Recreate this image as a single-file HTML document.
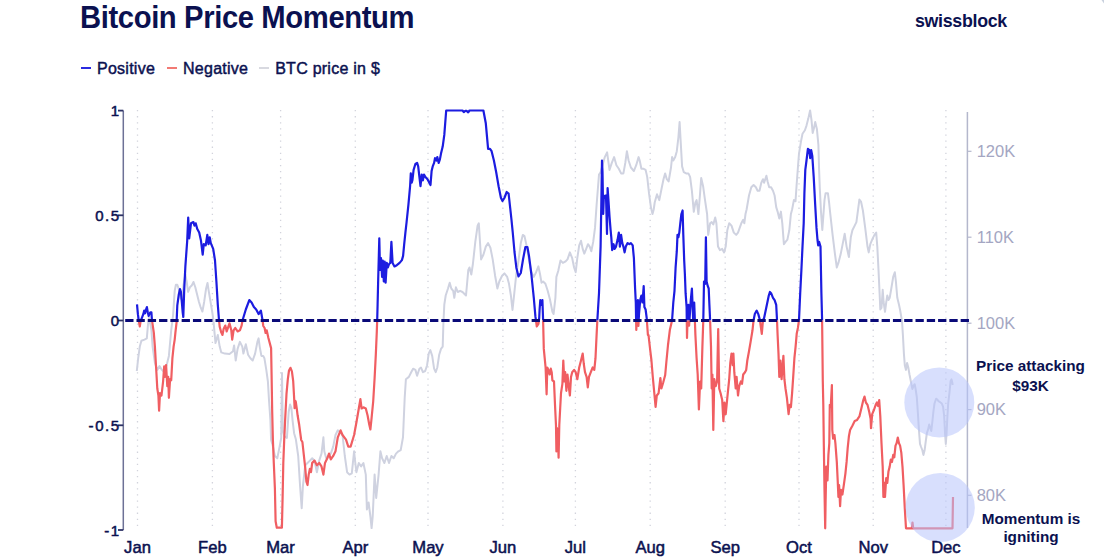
<!DOCTYPE html>
<html><head><meta charset="utf-8"><style>
html,body{margin:0;padding:0;background:#fff;width:1104px;height:558px;overflow:hidden;}
body{position:relative;font-family:"Liberation Sans",sans-serif;}
.t{position:absolute;white-space:nowrap;color:#0b1150;}
#title{left:79.5px;top:0px;font-size:30.6px;font-weight:bold;letter-spacing:-0.4px;transform:scaleX(0.955);transform-origin:0 0;}
#logo{left:915px;top:11px;font-size:17.8px;font-weight:bold;letter-spacing:-0.3px;}
#legend{left:81px;top:59.5px;font-size:16px;letter-spacing:0.25px;font-weight:normal;-webkit-text-stroke:0.45px #0b1150;}
.leg{display:inline-block;vertical-align:middle;}
.dash{display:inline-block;width:10px;height:2px;vertical-align:middle;margin-right:6px;position:relative;top:-1px;}
svg{position:absolute;left:0;top:0;}
</style></head><body>
<svg width="1104" height="558" viewBox="0 0 1104 558">
<defs>
<clipPath id="cpos"><rect x="0" y="0" width="1104" height="320.5"/></clipPath>
<clipPath id="cneg"><rect x="0" y="320.5" width="1104" height="300"/></clipPath>
</defs>
<g stroke="#d2d3dc" stroke-width="1.3" stroke-dasharray="1.3 4.8" ><line x1="137.5" y1="110" x2="137.5" y2="529" /><line x1="212.4" y1="110" x2="212.4" y2="529" /><line x1="280.6" y1="110" x2="280.6" y2="529" /><line x1="355.3" y1="110" x2="355.3" y2="529" /><line x1="428.0" y1="110" x2="428.0" y2="529" /><line x1="502.9" y1="110" x2="502.9" y2="529" /><line x1="575.4" y1="110" x2="575.4" y2="529" /><line x1="650.2" y1="110" x2="650.2" y2="529" /><line x1="725.2" y1="110" x2="725.2" y2="529" /><line x1="799.0" y1="110" x2="799.0" y2="529" /><line x1="873.2" y1="110" x2="873.2" y2="529" /><line x1="945.9" y1="110" x2="945.9" y2="529" /></g>
<polyline points="136.8,371.0 138.2,358.2 139.8,346.6 141.4,340.8 144.5,339.6 146.8,338.4 148.0,324.5 149.0,318.0 150.0,322.0 151.4,330.0 152.6,346.6 154.9,362.9 157.3,369.9 159.5,366.0 161.9,369.9 164.0,372.0 166.6,365.2 168.9,355.9 171.2,330.3 173.1,315.1 174.7,290.9 175.9,284.7 177.3,284.7 178.8,289.1 180.5,298.0 182.0,300.0 183.5,285.0 185.4,274.8 186.7,282.0 188.1,291.8 189.9,287.3 191.7,285.6 193.5,282.0 195.3,287.3 197.1,294.5 198.9,301.7 200.6,307.1 202.4,311.5 204.2,301.7 206.0,289.1 207.5,282.9 208.7,290.9 210.5,301.7 212.3,312.4 213.5,321.0 214.3,330.3 215.5,343.1 217.8,334.9 219.7,346.6 221.3,352.4 224.8,353.6 229.5,354.0 233.0,351.2 234.1,345.4 235.7,360.5 237.6,348.9 239.9,341.9 242.3,346.6 243.4,353.6 245.8,344.2 248.1,354.7 250.4,358.2 252.7,360.5 255.1,353.6 257.4,341.9 258.6,338.4 259.7,346.6 261.4,355.9 263.2,355.9 264.4,358.2 266.3,369.9 267.9,381.5 269.0,400.1 270.4,420.0 271.1,440.0 272.6,445.0 274.9,456.0 277.3,458.3 279.6,446.6 281.2,438.0 282.0,373.0 282.8,430.0 284.2,436.0 286.9,438.0 288.7,411.7 290.1,404.5 291.4,408.1 292.6,420.6 294.1,433.2 295.9,439.6 298.2,456.0 300.1,486.2 301.7,508.3 302.9,486.2 305.2,465.3 307.5,463.0 309.9,460.6 312.2,458.3 314.5,460.6 316.9,472.2 319.2,460.6 321.5,453.6 323.4,437.3 324.3,451.3 326.2,458.3 328.5,456.0 330.8,453.6 333.2,446.6 335.5,435.0 337.8,430.3 340.0,432.0 342.5,435.0 344.8,456.0 347.1,472.2 349.5,474.6 351.8,473.4 354.1,451.3 355.3,463.0 356.4,472.2 358.8,463.0 361.1,466.4 363.4,463.0 365.8,474.6 366.9,509.5 368.6,502.5 370.4,516.5 371.6,528.1 372.7,516.5 374.6,474.6 376.2,497.9 378.6,474.6 380.4,451.3 382.1,458.3 384.4,463.0 386.7,456.0 389.0,463.0 391.4,456.0 393.7,458.3 396.0,453.6 398.4,451.3 400.7,450.1 403.0,437.3 404.7,397.8 405.9,379.2 408.9,376.9 411.2,372.2 413.1,368.7 415.4,369.9 417.1,375.7 419.4,368.7 421.0,367.5 422.9,372.2 425.2,371.0 427.1,365.2 428.7,353.6 430.3,350.1 432.2,355.9 434.1,368.7 435.7,372.2 437.3,367.5 439.2,354.7 441.0,348.9 442.7,346.6 443.4,323.3 444.3,304.7 445.7,295.5 448.0,288.5 449.7,282.7 451.3,288.5 453.2,290.8 454.3,297.8 455.9,287.3 457.8,292.0 460.1,290.8 462.5,292.0 466.0,295.5 468.3,269.9 469.5,267.5 471.3,274.5 472.9,264.0 475.3,241.9 477.6,225.6 478.8,223.3 481.1,259.4 483.4,254.7 485.8,246.6 488.1,243.1 490.4,247.7 492.7,259.4 495.1,275.7 497.4,288.5 499.3,281.5 502.1,275.7 504.4,273.4 507.2,276.9 509.0,283.8 510.9,295.5 512.5,310.0 514.3,293.2 516.2,275.0 518.5,260.5 520.8,243.0 522.8,234.9 524.5,236.1 526.8,246.6 529.1,260.5 531.4,272.2 533.8,276.9 536.1,272.2 538.4,266.4 540.1,274.5 541.5,282.7 543.1,281.5 545.4,283.8 547.7,290.8 550.1,300.1 552.4,311.8 553.6,314.0 555.4,297.8 556.4,276.9 558.2,271.0 560.5,260.5 562.9,262.9 565.2,261.7 567.5,259.4 569.9,252.4 572.2,258.2 574.1,267.5 575.7,272.2 577.3,258.2 579.2,245.4 581.0,240.8 582.7,248.9 584.3,253.6 586.2,248.9 588.0,244.2 589.7,246.6 591.3,251.2 593.2,241.9 595.0,227.9 596.6,205.0 599.0,174.5 600.6,172.2 602.5,165.2 604.8,157.1 607.1,152.4 609.5,169.9 611.8,162.9 614.1,157.1 616.4,165.2 618.8,168.7 621.1,173.4 623.4,173.4 625.3,162.9 626.9,151.2 628.6,160.5 630.9,167.5 633.9,171.0 636.2,165.2 638.6,157.1 639.7,160.5 641.4,168.7 643.2,168.7 645.6,169.9 647.2,176.9 649.0,193.2 650.9,207.1 652.5,214.1 653.7,209.5 654.7,202.5 657.0,194.3 659.3,200.1 661.6,188.5 663.5,179.2 665.1,173.4 666.8,179.2 668.6,181.5 671.0,167.5 672.1,157.1 673.3,160.5 675.2,157.1 676.8,151.2 678.4,137.3 679.6,122.1 680.7,141.9 682.1,166.4 683.8,172.2 686.1,173.4 688.4,173.4 690.1,176.9 691.9,190.8 693.8,211.8 695.4,202.5 696.6,200.1 698.4,214.1 700.1,193.2 701.2,178.0 703.1,186.2 704.7,197.8 706.4,209.5 707.1,214.0 708.2,234.9 710.1,223.3 711.7,222.1 713.3,224.5 715.2,217.5 716.4,223.3 718.0,246.6 719.9,250.1 722.2,248.9 724.1,252.4 725.7,246.6 727.3,230.3 729.2,223.3 731.5,225.6 733.8,232.6 736.2,234.9 738.0,232.6 739.7,227.9 741.3,223.3 743.2,219.8 744.3,223.3 745.5,214.0 746.6,209.5 749.0,195.5 751.3,187.3 753.6,185.0 755.9,187.3 757.6,190.8 759.5,190.8 761.3,182.7 763.0,179.2 764.1,182.7 766.4,175.7 767.6,181.5 769.2,187.3 771.1,187.3 773.0,190.8 774.6,195.5 776.2,207.1 777.6,211.6 779.3,218.6 780.9,211.6 782.3,223.3 783.9,244.2 785.5,241.9 787.4,239.6 789.3,230.3 790.9,214.0 792.1,209.5 793.9,200.1 795.5,201.3 796.7,183.8 797.9,167.5 799.0,153.6 800.9,141.9 802.5,133.8 804.9,130.3 806.5,125.6 808.3,118.6 810.1,110.5 811.5,120.0 812.7,133.0 814.0,127.9 815.2,122.1 816.9,129.0 818.4,145.0 819.1,169.9 819.8,188.5 821.0,211.8 822.3,230.0 823.3,216.4 824.5,200.1 825.6,193.2 827.9,193.2 829.1,202.5 830.3,214.1 832.6,234.9 834.9,253.6 836.8,267.5 838.4,262.9 840.8,253.6 843.1,241.9 844.7,233.8 846.6,246.6 848.9,257.1 850.8,237.3 852.4,230.3 854.7,225.6 856.4,222.1 857.8,211.6 859.4,199.5 861.0,201.5 862.9,210.5 865.2,227.9 867.5,246.6 868.7,252.4 870.3,244.2 872.7,238.4 874.5,234.9 876.2,232.6 877.3,246.6 878.5,269.9 879.6,293.2 880.3,309.5 881.5,308.0 882.7,289.7 883.6,302.0 885.0,311.8 886.2,302.5 887.3,295.5 888.5,300.1 889.7,297.8 891.3,288.5 893.2,276.9 894.8,272.2 895.9,281.5 897.3,297.8 899.0,304.8 900.1,310.0 902.0,321.0 902.9,334.9 903.9,353.6 904.8,365.2 906.0,369.9 907.1,362.9 908.3,367.5 909.5,374.5 911.1,382.6 912.4,389.0 913.5,385.8 914.7,384.2 915.6,389.0 916.8,397.1 917.9,413.2 918.9,429.4 920.0,443.9 921.1,447.0 922.3,450.0 923.4,454.9 924.6,450.3 925.8,441.0 926.9,433.0 928.1,429.4 929.2,424.5 930.2,427.7 931.3,431.0 932.4,421.3 933.4,411.6 934.5,403.5 936.1,398.7 937.3,399.5 938.5,401.1 940.2,402.3 941.8,403.5 943.1,406.8 944.2,416.5 945.0,432.6 945.8,443.9 946.6,432.6 947.4,416.5 948.2,403.5 949.5,392.3 950.6,381.0 951.5,379.4 952.3,382.6 952.7,385.0" fill="none" stroke="#cfd2e0" stroke-width="2" stroke-linejoin="round"/>
<line x1="123.3" y1="110.6" x2="123.3" y2="530" stroke="#6d7196" stroke-width="1.5"/>
<g stroke="#2e3366" stroke-width="1.8"><line x1="118" y1="110.6" x2="123.3" y2="110.6" /><line x1="118" y1="215.3" x2="123.3" y2="215.3" /><line x1="118" y1="320.5" x2="123.3" y2="320.5" /><line x1="118" y1="425.3" x2="123.3" y2="425.3" /><line x1="118" y1="530" x2="123.3" y2="530" /></g>
<line x1="967.4" y1="112" x2="967.4" y2="528" stroke="#b4b7cc" stroke-width="1.5"/>
<g stroke="#b4b7cc" stroke-width="1.2"><line x1="967.5" y1="151.3" x2="971.5" y2="151.3" /><line x1="967.5" y1="237.2" x2="971.5" y2="237.2" /><line x1="967.5" y1="323.2" x2="971.5" y2="323.2" /><line x1="967.5" y1="409.6" x2="971.5" y2="409.6" /><line x1="967.5" y1="495.3" x2="971.5" y2="495.3" /></g>
<polyline points="137.0,304.4 137.9,314.2 138.8,321.0 139.8,326.5 140.6,321.0 141.9,317.8 143.3,314.2 144.2,310.6 145.1,313.3 146.0,309.7 146.9,307.1 147.8,312.4 148.7,316.0 149.6,313.3 150.5,312.4 151.4,312.4 151.9,319.6 153.8,332.6 154.9,346.6 156.1,367.5 157.3,388.5 158.4,395.5 159.1,410.6 160.0,393.2 161.5,395.5 163.1,381.5 164.2,366.4 164.9,376.9 166.1,365.2 167.3,386.2 168.2,376.9 168.9,397.8 170.1,379.2 171.2,380.3 172.4,358.2 173.6,346.6 174.7,339.6 175.4,332.6 176.6,322.1 177.3,305.3 178.8,294.5 180.0,289.1 180.9,291.8 181.8,301.7 182.7,312.4 183.3,317.0 184.2,290.0 185.4,265.8 187.2,240.8 188.2,217.5 189.2,238.4 191.0,223.3 193.4,222.1 194.5,225.6 195.7,223.3 197.3,229.1 199.2,232.6 201.0,240.8 202.7,254.7 203.8,244.2 205.7,245.4 207.3,234.9 208.5,244.2 209.7,237.3 210.8,243.1 213.2,248.9 215.0,260.5 216.4,281.5 217.8,304.8 219.0,320.0 219.7,326.8 221.3,332.6 222.5,334.9 223.6,329.1 225.3,325.6 226.7,331.4 228.3,326.8 229.5,323.3 231.3,330.3 232.2,339.6 233.6,330.3 235.3,328.0 237.6,331.4 239.9,330.3 241.6,325.6 242.5,320.5 245.8,309.5 249.3,300.1 251.6,302.5 253.9,307.1 256.2,309.5 258.6,314.1 260.9,310.6 262.5,320.0 263.3,326.0 264.6,328.0 265.6,333.0 266.7,330.3 268.4,338.0 269.9,343.6 271.1,348.1 271.6,375.8 272.2,411.7 272.9,440.0 273.8,463.0 274.9,488.5 275.6,521.2 276.8,527.7 281.9,527.7 282.6,497.9 283.3,462.9 284.2,440.0 285.1,420.6 286.5,393.8 287.8,379.4 289.0,370.5 290.5,367.8 291.9,371.4 293.2,381.2 294.1,397.3 294.6,408.1 295.3,400.9 295.8,401.8 296.7,408.1 297.6,415.3 299.1,424.2 300.3,433.2 301.2,440.0 302.4,442.0 305.2,467.6 306.4,481.6 307.5,485.0 308.7,474.6 309.9,468.8 311.0,472.2 312.2,462.9 314.5,460.6 316.9,465.3 319.2,462.9 321.5,466.4 323.4,474.6 325.0,462.9 327.3,458.3 329.0,453.6 330.8,459.4 333.2,455.9 335.5,451.3 337.8,437.3 340.6,430.3 342.5,435.0 346.0,439.6 348.3,446.6 350.6,446.6 354.1,435.0 356.4,422.5 358.8,408.5 360.4,399.2 361.6,408.5 363.4,407.3 365.8,408.5 367.6,415.5 369.3,424.8 370.4,429.5 371.6,417.8 373.2,401.5 374.6,378.2 375.8,354.9 376.8,331.6 377.2,320.0 377.6,304.8 378.2,279.2 379.3,238.4 380.0,269.9 381.0,258.2 382.1,276.9 382.8,260.5 383.8,281.5 384.7,261.7 385.6,282.7 386.8,262.9 387.9,267.5 389.1,264.0 390.3,262.9 391.4,241.9 392.6,262.9 394.5,266.4 396.8,265.2 399.6,262.9 401.9,260.1 403.1,255.9 404.2,244.2 405.4,232.6 406.6,222.0 408.4,204.8 410.1,186.2 410.8,173.4 411.7,182.7 412.4,180.3 413.6,169.9 415.4,164.0 417.1,162.9 418.2,166.4 419.4,176.8 420.5,186.2 421.7,174.5 422.9,180.3 424.0,174.5 425.2,176.8 427.5,179.2 430.5,185.0 431.6,171.1 432.7,166.4 434.1,162.9 435.0,158.2 436.4,160.5 437.3,157.1 438.7,162.9 439.9,159.4 441.0,153.6 442.7,146.6 444.3,134.9 446.2,110.5 462.5,110.5 463.8,112.2 465.3,110.9 466.6,110.9 468.2,112.3 469.5,110.5 483.4,110.5 485.8,123.3 488.1,148.9 490.0,148.9 491.6,151.2 493.9,160.5 496.2,172.2 498.6,186.2 500.9,197.8 502.5,201.0 504.4,198.0 506.7,192.0 508.6,193.5 510.2,208.0 511.5,220.0 512.7,232.0 514.5,252.0 516.4,268.0 518.5,276.5 520.8,273.0 523.1,259.0 525.4,247.0 527.4,247.0 529.0,255.9 531.4,274.5 533.8,297.8 535.4,316.4 536.8,326.5 538.4,324.0 539.2,318.0 539.6,309.5 540.3,300.1 541.5,304.8 542.4,300.1 543.1,320.0 543.8,348.9 544.7,358.2 545.6,367.5 546.6,394.3 547.3,367.5 548.4,369.9 549.6,374.5 550.8,368.7 551.7,372.2 552.4,380.3 554.0,381.5 555.0,404.8 556.0,425.8 556.4,451.4 557.0,428.0 558.0,440.0 558.6,457.7 559.3,425.0 560.2,408.0 561.0,393.2 562.4,383.8 563.3,360.5 564.3,381.5 565.2,372.2 566.4,390.8 567.5,374.5 568.7,386.2 569.9,395.5 571.0,376.9 572.2,372.2 574.1,369.9 575.7,372.2 577.3,379.2 579.2,367.5 581.0,360.5 582.7,353.6 583.8,364.0 585.0,372.2 586.6,376.9 587.8,387.3 589.0,376.9 590.8,372.2 592.7,367.5 594.3,369.9 595.5,358.2 596.6,334.9 597.3,321.0 599.0,293.2 600.6,246.6 601.3,204.8 602.0,160.5 602.5,172.0 603.2,214.0 603.9,195.5 604.8,197.8 606.0,195.5 607.0,234.0 607.6,188.0 608.3,197.8 609.5,216.4 610.6,230.0 611.3,237.3 612.2,250.1 613.6,244.2 614.6,248.9 616.0,246.6 617.6,239.6 618.8,232.6 619.9,246.6 621.1,234.9 622.3,243.1 623.4,246.6 624.6,252.4 625.8,246.6 627.6,243.1 629.3,244.2 630.9,243.1 632.7,245.4 633.9,258.2 635.1,288.5 635.8,302.5 636.3,330.0 637.0,311.8 637.9,300.1 638.4,326.0 639.0,314.1 640.2,300.1 641.4,295.5 642.5,302.5 643.7,286.2 644.4,307.1 645.6,309.5 646.7,318.0 647.9,334.9 648.5,335.0 650.2,350.0 651.4,360.0 652.8,377.0 654.2,392.0 655.6,407.0 656.8,395.5 658.6,393.2 660.4,378.0 661.4,388.5 663.2,382.5 665.2,375.0 666.5,360.5 668.0,345.0 669.8,330.3 671.4,323.3 672.1,320.0 673.3,302.5 674.5,290.8 675.6,267.5 676.8,251.2 677.5,234.9 678.4,237.3 679.3,232.6 680.3,223.3 681.4,214.0 682.6,210.5 683.3,234.9 684.2,260.5 684.9,274.5 685.6,293.2 686.6,307.1 687.0,338.0 687.6,318.0 688.4,304.8 689.1,325.6 690.8,300.1 691.9,288.5 693.1,318.8 694.2,302.5 694.9,321.0 695.4,334.9 696.6,358.2 697.7,374.5 698.9,409.5 700.1,381.5 701.2,388.5 702.4,346.6 703.3,320.0 704.0,281.5 705.2,283.8 705.9,237.3 706.6,281.5 707.8,286.2 708.7,288.5 709.4,304.8 710.1,320.0 711.0,346.6 711.7,388.5 712.4,374.5 713.3,430.0 714.3,379.2 715.7,386.2 717.1,381.5 718.2,329.1 719.2,388.5 720.6,393.2 722.2,400.1 723.4,421.1 724.5,402.5 725.7,414.1 727.3,397.8 729.2,379.2 730.3,362.9 731.5,353.6 732.7,365.2 733.4,353.6 734.3,372.2 735.7,388.5 736.6,376.9 738.0,395.5 739.2,386.2 740.8,381.5 742.0,383.8 743.2,374.5 745.0,372.2 746.2,369.9 747.3,360.5 749.0,351.2 750.6,341.9 752.5,330.3 753.6,320.0 754.8,314.1 756.7,310.6 758.3,314.1 759.9,320.0 761.8,333.8 763.0,320.0 764.1,318.0 766.4,307.1 768.8,295.5 769.9,292.0 771.1,293.2 773.0,297.8 774.6,300.1 776.2,304.8 777.0,320.0 777.6,334.9 778.5,353.6 779.3,376.9 780.4,360.5 781.6,379.2 782.7,365.2 783.4,355.9 784.4,379.2 785.5,388.5 786.9,397.8 788.6,414.1 789.7,404.8 790.9,407.1 792.1,393.2 793.2,376.9 794.4,358.2 795.6,346.6 796.7,333.8 797.9,327.9 799.0,320.0 800.2,293.2 801.4,269.9 802.5,246.6 803.7,223.3 804.4,193.2 805.3,169.9 806.5,160.5 807.9,148.9 809.3,150.1 810.2,158.2 811.2,150.1 812.3,155.9 813.7,176.9 815.2,205.0 816.5,227.9 817.5,240.0 818.2,245.4 819.1,241.9 820.5,246.6 821.4,293.2 822.1,320.0 822.4,346.6 822.8,381.5 823.3,404.8 823.8,443.3 824.5,489.9 825.2,528.3 825.6,501.5 826.3,466.6 827.5,480.5 828.4,454.9 829.3,443.3 829.8,404.8 830.7,407.1 831.9,385.0 832.3,430.0 833.1,438.6 834.5,435.1 835.4,443.3 836.8,461.9 837.7,480.5 838.4,496.9 839.1,485.2 840.1,506.2 841.0,489.9 842.4,494.5 843.8,485.2 845.4,473.6 846.6,461.9 847.7,447.9 848.9,436.3 850.1,430.0 852.4,425.8 854.7,421.1 857.1,419.9 859.4,416.4 861.7,407.1 863.3,400.1 864.5,396.6 865.9,402.5 867.5,404.8 869.2,411.8 870.6,418.8 871.0,428.2 872.2,414.1 874.1,409.5 875.7,404.8 876.9,402.5 878.0,406.0 879.2,400.1 880.3,416.4 881.5,443.3 882.7,466.6 883.4,496.9 884.3,482.9 885.0,496.9 886.2,478.2 887.3,482.9 888.5,471.2 889.7,466.6 890.8,459.6 892.0,461.9 893.2,454.9 894.3,457.3 895.5,445.6 896.6,443.3 897.8,437.5 899.0,443.3 900.1,445.6 901.3,452.6 902.5,466.6 903.6,485.2 904.8,508.5 906.0,528.3 911.8,528.3 912.5,522.5 913.2,528.3 952.5,528.3 953.0,496.9" fill="none" stroke="#1c1ce0" stroke-width="2.2" stroke-linejoin="round" clip-path="url(#cpos)"/>
<polyline points="137.0,304.4 137.9,314.2 138.8,321.0 139.8,326.5 140.6,321.0 141.9,317.8 143.3,314.2 144.2,310.6 145.1,313.3 146.0,309.7 146.9,307.1 147.8,312.4 148.7,316.0 149.6,313.3 150.5,312.4 151.4,312.4 151.9,319.6 153.8,332.6 154.9,346.6 156.1,367.5 157.3,388.5 158.4,395.5 159.1,410.6 160.0,393.2 161.5,395.5 163.1,381.5 164.2,366.4 164.9,376.9 166.1,365.2 167.3,386.2 168.2,376.9 168.9,397.8 170.1,379.2 171.2,380.3 172.4,358.2 173.6,346.6 174.7,339.6 175.4,332.6 176.6,322.1 177.3,305.3 178.8,294.5 180.0,289.1 180.9,291.8 181.8,301.7 182.7,312.4 183.3,317.0 184.2,290.0 185.4,265.8 187.2,240.8 188.2,217.5 189.2,238.4 191.0,223.3 193.4,222.1 194.5,225.6 195.7,223.3 197.3,229.1 199.2,232.6 201.0,240.8 202.7,254.7 203.8,244.2 205.7,245.4 207.3,234.9 208.5,244.2 209.7,237.3 210.8,243.1 213.2,248.9 215.0,260.5 216.4,281.5 217.8,304.8 219.0,320.0 219.7,326.8 221.3,332.6 222.5,334.9 223.6,329.1 225.3,325.6 226.7,331.4 228.3,326.8 229.5,323.3 231.3,330.3 232.2,339.6 233.6,330.3 235.3,328.0 237.6,331.4 239.9,330.3 241.6,325.6 242.5,320.5 245.8,309.5 249.3,300.1 251.6,302.5 253.9,307.1 256.2,309.5 258.6,314.1 260.9,310.6 262.5,320.0 263.3,326.0 264.6,328.0 265.6,333.0 266.7,330.3 268.4,338.0 269.9,343.6 271.1,348.1 271.6,375.8 272.2,411.7 272.9,440.0 273.8,463.0 274.9,488.5 275.6,521.2 276.8,527.7 281.9,527.7 282.6,497.9 283.3,462.9 284.2,440.0 285.1,420.6 286.5,393.8 287.8,379.4 289.0,370.5 290.5,367.8 291.9,371.4 293.2,381.2 294.1,397.3 294.6,408.1 295.3,400.9 295.8,401.8 296.7,408.1 297.6,415.3 299.1,424.2 300.3,433.2 301.2,440.0 302.4,442.0 305.2,467.6 306.4,481.6 307.5,485.0 308.7,474.6 309.9,468.8 311.0,472.2 312.2,462.9 314.5,460.6 316.9,465.3 319.2,462.9 321.5,466.4 323.4,474.6 325.0,462.9 327.3,458.3 329.0,453.6 330.8,459.4 333.2,455.9 335.5,451.3 337.8,437.3 340.6,430.3 342.5,435.0 346.0,439.6 348.3,446.6 350.6,446.6 354.1,435.0 356.4,422.5 358.8,408.5 360.4,399.2 361.6,408.5 363.4,407.3 365.8,408.5 367.6,415.5 369.3,424.8 370.4,429.5 371.6,417.8 373.2,401.5 374.6,378.2 375.8,354.9 376.8,331.6 377.2,320.0 377.6,304.8 378.2,279.2 379.3,238.4 380.0,269.9 381.0,258.2 382.1,276.9 382.8,260.5 383.8,281.5 384.7,261.7 385.6,282.7 386.8,262.9 387.9,267.5 389.1,264.0 390.3,262.9 391.4,241.9 392.6,262.9 394.5,266.4 396.8,265.2 399.6,262.9 401.9,260.1 403.1,255.9 404.2,244.2 405.4,232.6 406.6,222.0 408.4,204.8 410.1,186.2 410.8,173.4 411.7,182.7 412.4,180.3 413.6,169.9 415.4,164.0 417.1,162.9 418.2,166.4 419.4,176.8 420.5,186.2 421.7,174.5 422.9,180.3 424.0,174.5 425.2,176.8 427.5,179.2 430.5,185.0 431.6,171.1 432.7,166.4 434.1,162.9 435.0,158.2 436.4,160.5 437.3,157.1 438.7,162.9 439.9,159.4 441.0,153.6 442.7,146.6 444.3,134.9 446.2,110.5 462.5,110.5 463.8,112.2 465.3,110.9 466.6,110.9 468.2,112.3 469.5,110.5 483.4,110.5 485.8,123.3 488.1,148.9 490.0,148.9 491.6,151.2 493.9,160.5 496.2,172.2 498.6,186.2 500.9,197.8 502.5,201.0 504.4,198.0 506.7,192.0 508.6,193.5 510.2,208.0 511.5,220.0 512.7,232.0 514.5,252.0 516.4,268.0 518.5,276.5 520.8,273.0 523.1,259.0 525.4,247.0 527.4,247.0 529.0,255.9 531.4,274.5 533.8,297.8 535.4,316.4 536.8,326.5 538.4,324.0 539.2,318.0 539.6,309.5 540.3,300.1 541.5,304.8 542.4,300.1 543.1,320.0 543.8,348.9 544.7,358.2 545.6,367.5 546.6,394.3 547.3,367.5 548.4,369.9 549.6,374.5 550.8,368.7 551.7,372.2 552.4,380.3 554.0,381.5 555.0,404.8 556.0,425.8 556.4,451.4 557.0,428.0 558.0,440.0 558.6,457.7 559.3,425.0 560.2,408.0 561.0,393.2 562.4,383.8 563.3,360.5 564.3,381.5 565.2,372.2 566.4,390.8 567.5,374.5 568.7,386.2 569.9,395.5 571.0,376.9 572.2,372.2 574.1,369.9 575.7,372.2 577.3,379.2 579.2,367.5 581.0,360.5 582.7,353.6 583.8,364.0 585.0,372.2 586.6,376.9 587.8,387.3 589.0,376.9 590.8,372.2 592.7,367.5 594.3,369.9 595.5,358.2 596.6,334.9 597.3,321.0 599.0,293.2 600.6,246.6 601.3,204.8 602.0,160.5 602.5,172.0 603.2,214.0 603.9,195.5 604.8,197.8 606.0,195.5 607.0,234.0 607.6,188.0 608.3,197.8 609.5,216.4 610.6,230.0 611.3,237.3 612.2,250.1 613.6,244.2 614.6,248.9 616.0,246.6 617.6,239.6 618.8,232.6 619.9,246.6 621.1,234.9 622.3,243.1 623.4,246.6 624.6,252.4 625.8,246.6 627.6,243.1 629.3,244.2 630.9,243.1 632.7,245.4 633.9,258.2 635.1,288.5 635.8,302.5 636.3,330.0 637.0,311.8 637.9,300.1 638.4,326.0 639.0,314.1 640.2,300.1 641.4,295.5 642.5,302.5 643.7,286.2 644.4,307.1 645.6,309.5 646.7,318.0 647.9,334.9 648.5,335.0 650.2,350.0 651.4,360.0 652.8,377.0 654.2,392.0 655.6,407.0 656.8,395.5 658.6,393.2 660.4,378.0 661.4,388.5 663.2,382.5 665.2,375.0 666.5,360.5 668.0,345.0 669.8,330.3 671.4,323.3 672.1,320.0 673.3,302.5 674.5,290.8 675.6,267.5 676.8,251.2 677.5,234.9 678.4,237.3 679.3,232.6 680.3,223.3 681.4,214.0 682.6,210.5 683.3,234.9 684.2,260.5 684.9,274.5 685.6,293.2 686.6,307.1 687.0,338.0 687.6,318.0 688.4,304.8 689.1,325.6 690.8,300.1 691.9,288.5 693.1,318.8 694.2,302.5 694.9,321.0 695.4,334.9 696.6,358.2 697.7,374.5 698.9,409.5 700.1,381.5 701.2,388.5 702.4,346.6 703.3,320.0 704.0,281.5 705.2,283.8 705.9,237.3 706.6,281.5 707.8,286.2 708.7,288.5 709.4,304.8 710.1,320.0 711.0,346.6 711.7,388.5 712.4,374.5 713.3,430.0 714.3,379.2 715.7,386.2 717.1,381.5 718.2,329.1 719.2,388.5 720.6,393.2 722.2,400.1 723.4,421.1 724.5,402.5 725.7,414.1 727.3,397.8 729.2,379.2 730.3,362.9 731.5,353.6 732.7,365.2 733.4,353.6 734.3,372.2 735.7,388.5 736.6,376.9 738.0,395.5 739.2,386.2 740.8,381.5 742.0,383.8 743.2,374.5 745.0,372.2 746.2,369.9 747.3,360.5 749.0,351.2 750.6,341.9 752.5,330.3 753.6,320.0 754.8,314.1 756.7,310.6 758.3,314.1 759.9,320.0 761.8,333.8 763.0,320.0 764.1,318.0 766.4,307.1 768.8,295.5 769.9,292.0 771.1,293.2 773.0,297.8 774.6,300.1 776.2,304.8 777.0,320.0 777.6,334.9 778.5,353.6 779.3,376.9 780.4,360.5 781.6,379.2 782.7,365.2 783.4,355.9 784.4,379.2 785.5,388.5 786.9,397.8 788.6,414.1 789.7,404.8 790.9,407.1 792.1,393.2 793.2,376.9 794.4,358.2 795.6,346.6 796.7,333.8 797.9,327.9 799.0,320.0 800.2,293.2 801.4,269.9 802.5,246.6 803.7,223.3 804.4,193.2 805.3,169.9 806.5,160.5 807.9,148.9 809.3,150.1 810.2,158.2 811.2,150.1 812.3,155.9 813.7,176.9 815.2,205.0 816.5,227.9 817.5,240.0 818.2,245.4 819.1,241.9 820.5,246.6 821.4,293.2 822.1,320.0 822.4,346.6 822.8,381.5 823.3,404.8 823.8,443.3 824.5,489.9 825.2,528.3 825.6,501.5 826.3,466.6 827.5,480.5 828.4,454.9 829.3,443.3 829.8,404.8 830.7,407.1 831.9,385.0 832.3,430.0 833.1,438.6 834.5,435.1 835.4,443.3 836.8,461.9 837.7,480.5 838.4,496.9 839.1,485.2 840.1,506.2 841.0,489.9 842.4,494.5 843.8,485.2 845.4,473.6 846.6,461.9 847.7,447.9 848.9,436.3 850.1,430.0 852.4,425.8 854.7,421.1 857.1,419.9 859.4,416.4 861.7,407.1 863.3,400.1 864.5,396.6 865.9,402.5 867.5,404.8 869.2,411.8 870.6,418.8 871.0,428.2 872.2,414.1 874.1,409.5 875.7,404.8 876.9,402.5 878.0,406.0 879.2,400.1 880.3,416.4 881.5,443.3 882.7,466.6 883.4,496.9 884.3,482.9 885.0,496.9 886.2,478.2 887.3,482.9 888.5,471.2 889.7,466.6 890.8,459.6 892.0,461.9 893.2,454.9 894.3,457.3 895.5,445.6 896.6,443.3 897.8,437.5 899.0,443.3 900.1,445.6 901.3,452.6 902.5,466.6 903.6,485.2 904.8,508.5 906.0,528.3 911.8,528.3 912.5,522.5 913.2,528.3 952.5,528.3 953.0,496.9" fill="none" stroke="#f05e62" stroke-width="2.2" stroke-linejoin="round" clip-path="url(#cneg)"/>
<circle cx="939.3" cy="402.4" r="35" fill="rgb(183,196,251)" fill-opacity="0.54"/>
<circle cx="940.2" cy="507.5" r="34.6" fill="rgb(183,196,251)" fill-opacity="0.54"/>
<line x1="125.2" y1="320.5" x2="969" y2="320.5" stroke="#0a0a78" stroke-width="3" stroke-dasharray="8.3 2.99"/>
<g font-family="Liberation Sans" font-size="15" fill="#0b1150" stroke="#0b1150" stroke-width="0.5" text-anchor="end"><text x="120.8" y="116.19999999999999" letter-spacing="1.6">1</text><text x="120.8" y="220.9" letter-spacing="1.6">0.5</text><text x="120.8" y="326.1" letter-spacing="1.6">0</text><text x="120.8" y="430.90000000000003" letter-spacing="1.6">-0.5</text><text x="120.8" y="535.6" letter-spacing="1.6">-1</text></g>
<g font-family="Liberation Sans" font-size="16.5" fill="#a4a6c2" text-anchor="start"><text x="976.7" y="156.70000000000002">120K</text><text x="976.7" y="242.6">110K</text><text x="976.7" y="328.59999999999997">100K</text><text x="976.7" y="415.0">90K</text><text x="976.7" y="500.7">80K</text></g>
<g font-family="Liberation Sans" font-size="16.6" fill="#0b1150" stroke="#0b1150" stroke-width="0.5" text-anchor="middle"><text x="137.5" y="553">Jan</text><text x="212.4" y="553">Feb</text><text x="280.6" y="553">Mar</text><text x="355.3" y="553">Apr</text><text x="428.0" y="553">May</text><text x="502.9" y="553">Jun</text><text x="575.4" y="553">Jul</text><text x="650.2" y="553">Aug</text><text x="725.2" y="553">Sep</text><text x="799.0" y="553">Oct</text><text x="873.2" y="553">Nov</text><text x="945.9" y="553">Dec</text></g>
<g font-family="Liberation Sans" font-size="15.3" font-weight="bold" fill="#0b1150" text-anchor="middle">
<text x="1030.5" y="370.5">Price attacking</text>
<text x="1030.5" y="390.7">$93K</text>
<text x="1031" y="523.5">Momentum is</text>
<text x="1031" y="542.3">igniting</text>
</g>
<polygon points="1101.5,0 1104,0 1104,3.5" fill="#c9d1de"/>
</svg>
<div class="t" id="title">Bitcoin Price Momentum</div>
<div class="t" id="logo">swissblock</div>
<div class="t" id="legend"><span class="dash" style="background:#2b2be0"></span>Positive<span class="dash" style="background:#f27a74;margin-left:12px"></span>Negative<span class="dash" style="background:#d8d9e0;margin-left:11px"></span>BTC price in $</div>
</body></html>
